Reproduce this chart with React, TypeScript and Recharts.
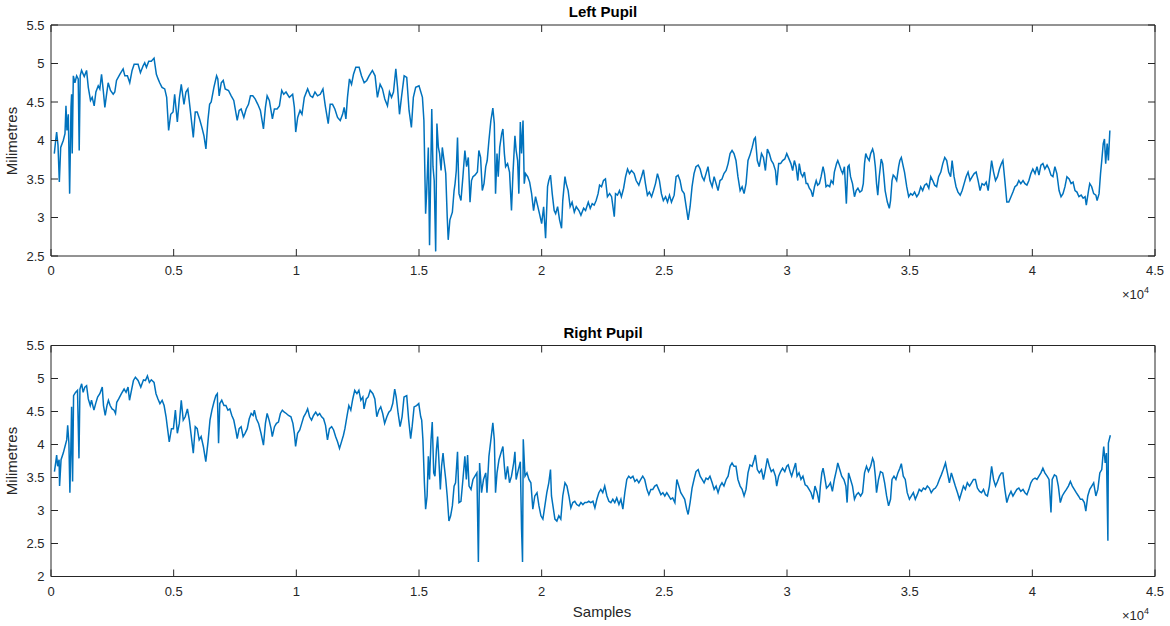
import { LineChart, Line, XAxis, YAxis } from "recharts"

const xTicks = [0, 5000, 10000, 15000, 20000, 25000, 30000, 35000, 40000, 45000]
const leftYTicks = [2.5, 3, 3.5, 4, 4.5, 5, 5.5]
const rightYTicks = [2, 2.5, 3, 3.5, 4, 4.5, 5, 5.5]

// [sample, pupil size in mm]
const leftPupil: [number, number][] = [
  [135, 3.83], [190, 4.0], [230, 4.11], [285, 3.94], [340, 3.46], [395, 3.91], [500, 4.0], [570, 4.09], [610, 4.45], [650, 4.13],
  [705, 4.34], [760, 3.31], [815, 4.43], [840, 4.6], [865, 3.83], [910, 4.84], [975, 4.75], [1045, 4.84], [1110, 4.8], [1150, 3.87],
  [1190, 4.84], [1245, 4.91], [1355, 4.83], [1450, 4.91], [1520, 4.69], [1610, 4.52], [1680, 4.56], [1760, 4.45], [1830, 4.63], [1925, 4.71],
  [1990, 4.67], [2060, 4.86], [2130, 4.65], [2195, 4.43], [2265, 4.6], [2330, 4.75], [2425, 4.65], [2535, 4.6], [2600, 4.63], [2670, 4.78],
  [2805, 4.86], [2940, 4.93], [3010, 4.84], [3115, 4.84], [3210, 4.75], [3305, 4.91], [3390, 4.99], [3550, 4.99], [3645, 4.88], [3755, 4.97],
  [3820, 5.01], [3890, 4.95], [3985, 5.03], [4090, 5.03], [4200, 5.07], [4295, 4.86], [4365, 4.8], [4430, 4.75], [4525, 4.69], [4635, 4.67],
  [4715, 4.56], [4795, 4.13], [4880, 4.34], [4975, 4.37], [5040, 4.6], [5150, 4.24], [5230, 4.54], [5310, 4.73], [5420, 4.47], [5500, 4.63],
  [5580, 4.67], [5665, 4.43], [5800, 4.04], [5880, 4.37], [5960, 4.37], [6055, 4.28], [6150, 4.17], [6235, 4.06], [6315, 3.89], [6395, 4.26],
  [6465, 4.47], [6530, 4.5], [6640, 4.69], [6750, 4.84], [6800, 4.8], [6855, 4.58], [6940, 4.75], [7020, 4.78], [7100, 4.67], [7235, 4.65],
  [7345, 4.58], [7450, 4.52], [7590, 4.26], [7670, 4.39], [7750, 4.41], [7860, 4.3], [7955, 4.41], [8050, 4.47], [8130, 4.58], [8225, 4.58],
  [8320, 4.54], [8430, 4.47], [8535, 4.39], [8660, 4.15], [8740, 4.43], [8810, 4.58], [8900, 4.52], [9025, 4.28], [9105, 4.41], [9215, 4.41],
  [9310, 4.45], [9405, 4.65], [9485, 4.6], [9580, 4.63], [9715, 4.56], [9850, 4.6], [9920, 4.43], [9975, 4.11], [10055, 4.3], [10150, 4.39],
  [10230, 4.34], [10325, 4.56], [10460, 4.67], [10570, 4.58], [10665, 4.56], [10760, 4.63], [10865, 4.58], [10975, 4.6], [11085, 4.67], [11180, 4.45],
  [11300, 4.22], [11380, 4.47], [11475, 4.47], [11570, 4.41], [11680, 4.3], [11790, 4.26], [11885, 4.34], [11950, 4.43], [12020, 4.28], [12085, 4.56],
  [12165, 4.8], [12250, 4.73], [12330, 4.86], [12425, 4.95], [12560, 4.95], [12655, 4.84], [12765, 4.75], [12870, 4.78], [12965, 4.84], [13100, 4.91],
  [13210, 4.84], [13305, 4.56], [13415, 4.73], [13510, 4.67], [13605, 4.54], [13715, 4.45], [13795, 4.63], [13880, 4.56], [13960, 4.63], [14055, 4.93],
  [14125, 4.69], [14205, 4.34], [14285, 4.56], [14395, 4.84], [14500, 4.82], [14595, 4.39], [14690, 4.17], [14770, 4.56], [14865, 4.69], [15000, 4.71],
  [15140, 4.56], [15200, 4.26], [15270, 3.05], [15310, 3.31], [15380, 3.91], [15430, 2.64], [15520, 4.41], [15570, 3.66], [15620, 3.48], [15680, 2.56],
  [15730, 4.22], [15790, 3.91], [15840, 3.83], [15900, 3.61], [15950, 3.91], [16020, 3.74], [16090, 3.57], [16150, 3.01], [16190, 2.71], [16260, 2.97],
  [16360, 3.07], [16430, 3.35], [16470, 3.44], [16520, 3.61], [16570, 4.04], [16630, 3.31], [16710, 3.22], [16790, 3.53], [16870, 3.87], [16940, 3.66],
  [17010, 3.78], [17080, 3.2], [17140, 3.48], [17200, 3.53], [17280, 3.55], [17380, 3.59], [17440, 3.87], [17510, 3.78], [17580, 3.35], [17650, 3.44],
  [17720, 3.66], [17780, 3.74], [17850, 4.0], [17930, 4.26], [18010, 4.42], [18070, 4.22], [18120, 3.31], [18180, 3.83], [18230, 3.53], [18290, 3.91],
  [18370, 4.09], [18420, 4.15], [18480, 3.83], [18530, 3.66], [18610, 3.7], [18690, 3.59], [18770, 3.09], [18830, 3.57], [18910, 4.06], [18960, 3.87],
  [19020, 3.74], [19070, 3.31], [19130, 4.24], [19180, 3.83], [19240, 4.26], [19290, 3.44], [19340, 3.57], [19430, 3.53], [19510, 3.46], [19590, 3.31],
  [19670, 3.09], [19750, 3.27], [19830, 3.16], [19910, 3.05], [20000, 2.92], [20080, 3.14], [20160, 2.73], [20240, 3.4], [20290, 3.48], [20360, 3.55],
  [20430, 3.31], [20510, 3.09], [20570, 3.05], [20650, 3.14], [20730, 2.97], [20810, 2.86], [20860, 3.22], [20950, 3.53], [21000, 3.44], [21080, 3.35],
  [21160, 3.14], [21240, 3.2], [21330, 3.07], [21410, 3.14], [21520, 3.09], [21600, 3.03], [21710, 3.12], [21790, 3.09], [21900, 3.2], [21980, 3.12],
  [22060, 3.18], [22140, 3.16], [22220, 3.22], [22300, 3.31], [22360, 3.42], [22440, 3.4], [22520, 3.48], [22600, 3.5], [22680, 3.27], [22770, 3.31],
  [22850, 3.27], [22960, 3.01], [23010, 3.31], [23090, 3.29], [23170, 3.35], [23250, 3.27], [23340, 3.38], [23420, 3.53], [23500, 3.63], [23580, 3.57],
  [23660, 3.61], [23770, 3.57], [23850, 3.48], [23960, 3.42], [24070, 3.53], [24150, 3.62], [24230, 3.44], [24310, 3.29], [24390, 3.33], [24480, 3.27],
  [24560, 3.35], [24640, 3.44], [24720, 3.57], [24800, 3.48], [24880, 3.31], [24960, 3.22], [25050, 3.27], [25130, 3.2], [25210, 3.29], [25290, 3.2],
  [25400, 3.29], [25480, 3.53], [25560, 3.55], [25640, 3.48], [25720, 3.35], [25810, 3.31], [25890, 3.14], [25970, 2.97], [26050, 3.14], [26130, 3.4],
  [26210, 3.57], [26290, 3.66], [26380, 3.68], [26460, 3.63], [26540, 3.53], [26620, 3.48], [26700, 3.57], [26780, 3.66], [26860, 3.48], [26950, 3.4],
  [27030, 3.53], [27110, 3.44], [27190, 3.35], [27270, 3.48], [27350, 3.5], [27430, 3.57], [27520, 3.61], [27600, 3.7], [27680, 3.83], [27760, 3.87],
  [27840, 3.83], [27920, 3.74], [28000, 3.53], [28090, 3.35], [28170, 3.4], [28250, 3.31], [28330, 3.44], [28410, 3.74], [28490, 3.81], [28580, 3.91],
  [28660, 4.02], [28710, 4.04], [28790, 3.74], [28870, 3.66], [28960, 3.83], [29040, 3.78], [29120, 3.61], [29200, 3.89], [29280, 3.83], [29360, 3.74],
  [29440, 3.7], [29530, 3.61], [29580, 3.42], [29660, 3.7], [29740, 3.7], [29820, 3.74], [29910, 3.76], [29990, 3.83], [30160, 3.7], [30230, 3.61],
  [30300, 3.74], [30370, 3.66], [30440, 3.48], [30500, 3.7], [30570, 3.57], [30640, 3.53], [30710, 3.59], [30780, 3.44], [30840, 3.44], [30910, 3.38],
  [30980, 3.35], [31050, 3.27], [31120, 3.4], [31190, 3.48], [31250, 3.42], [31320, 3.44], [31390, 3.53], [31470, 3.66], [31530, 3.57], [31590, 3.4],
  [31660, 3.42], [31740, 3.4], [31800, 3.48], [31880, 3.44], [31930, 3.59], [32020, 3.7], [32070, 3.74], [32140, 3.68], [32210, 3.61], [32270, 3.57],
  [32340, 3.66], [32420, 3.18], [32480, 3.66], [32530, 3.68], [32590, 3.53], [32670, 3.44], [32750, 3.27], [32820, 3.35], [32890, 3.38], [32970, 3.33],
  [33050, 3.35], [33110, 3.44], [33160, 3.7], [33210, 3.83], [33270, 3.78], [33350, 3.74], [33410, 3.83], [33490, 3.89], [33540, 3.83], [33600, 3.66],
  [33650, 3.44], [33700, 3.29], [33760, 3.53], [33840, 3.76], [33900, 3.7], [33950, 3.53], [34000, 3.35], [34090, 3.2], [34170, 3.12], [34220, 3.22],
  [34280, 3.48], [34330, 3.55], [34390, 3.53], [34470, 3.48], [34550, 3.66], [34600, 3.74], [34660, 3.78], [34740, 3.66], [34790, 3.59], [34880, 3.4],
  [34960, 3.27], [35040, 3.31], [35120, 3.29], [35200, 3.33], [35290, 3.27], [35370, 3.31], [35450, 3.4], [35530, 3.35], [35610, 3.42], [35690, 3.44],
  [35780, 3.38], [35860, 3.53], [35940, 3.48], [36020, 3.42], [36100, 3.4], [36180, 3.53], [36270, 3.59], [36350, 3.7], [36430, 3.78], [36510, 3.74],
  [36590, 3.59], [36670, 3.53], [36730, 3.74], [36810, 3.53], [36890, 3.4], [36970, 3.33], [37060, 3.29], [37140, 3.35], [37220, 3.44], [37300, 3.53],
  [37380, 3.59], [37460, 3.48], [37550, 3.53], [37630, 3.57], [37710, 3.59], [37790, 3.48], [37870, 3.35], [37950, 3.44], [38040, 3.42], [38120, 3.46],
  [38200, 3.35], [38280, 3.57], [38340, 3.74], [38420, 3.59], [38500, 3.48], [38580, 3.53], [38660, 3.63], [38740, 3.7], [38800, 3.74], [38880, 3.48],
  [38960, 3.2], [39040, 3.2], [39130, 3.27], [39210, 3.33], [39290, 3.4], [39370, 3.42], [39450, 3.48], [39530, 3.44], [39620, 3.48], [39700, 3.44],
  [39780, 3.42], [39860, 3.48], [39940, 3.57], [40020, 3.63], [40110, 3.57], [40190, 3.66], [40270, 3.55], [40350, 3.68], [40430, 3.7], [40510, 3.63],
  [40600, 3.68], [40680, 3.63], [40760, 3.55], [40840, 3.53], [40920, 3.66], [41000, 3.57], [41090, 3.35], [41170, 3.27], [41250, 3.31], [41330, 3.4],
  [41410, 3.53], [41500, 3.5], [41580, 3.44], [41660, 3.46], [41740, 3.35], [41820, 3.33], [41900, 3.27], [41990, 3.29], [42070, 3.25], [42150, 3.27],
  [42200, 3.16], [42290, 3.35], [42340, 3.44], [42420, 3.4], [42500, 3.31], [42590, 3.29], [42640, 3.22], [42720, 3.31], [42780, 3.57], [42830, 3.74],
  [42890, 3.96], [42940, 4.02], [42990, 3.7], [43050, 3.96], [43100, 3.74], [43160, 4.13],
]

const rightPupil: [number, number][] = [
  [140, 3.59], [190, 3.72], [230, 3.84], [270, 3.67], [330, 3.77], [350, 3.37], [410, 3.77], [500, 3.87], [570, 3.97], [640, 4.07],
  [680, 4.29], [730, 4.02], [770, 3.27], [810, 3.97], [840, 4.57], [880, 3.44], [920, 4.74], [1000, 4.79], [1080, 4.82], [1140, 3.79],
  [1180, 4.84], [1250, 4.92], [1310, 4.79], [1380, 4.87], [1450, 4.89], [1520, 4.69], [1600, 4.59], [1650, 4.67], [1750, 4.52], [1820, 4.62],
  [1900, 4.72], [1990, 4.77], [2090, 4.87], [2140, 4.59], [2210, 4.44], [2280, 4.59], [2340, 4.67], [2410, 4.59], [2490, 4.54], [2570, 4.52],
  [2630, 4.47], [2680, 4.64], [2760, 4.69], [2870, 4.77], [2980, 4.84], [3060, 4.79], [3140, 4.87], [3200, 4.67], [3280, 4.82], [3360, 4.97],
  [3440, 5.02], [3550, 4.97], [3660, 4.87], [3770, 4.98], [3850, 4.97], [3930, 5.04], [4010, 4.94], [4090, 4.98], [4200, 4.94], [4280, 4.77],
  [4360, 4.69], [4440, 4.62], [4530, 4.67], [4610, 4.59], [4690, 4.42], [4740, 4.27], [4820, 4.04], [4910, 4.24], [4990, 4.24], [5070, 4.52],
  [5150, 4.17], [5230, 4.32], [5310, 4.67], [5390, 4.37], [5470, 4.42], [5560, 4.54], [5640, 4.37], [5720, 4.12], [5800, 3.87], [5880, 4.27],
  [5960, 4.24], [6040, 4.07], [6120, 4.12], [6210, 3.97], [6310, 3.74], [6400, 4.04], [6480, 4.37], [6560, 4.52], [6640, 4.64], [6720, 4.74],
  [6780, 4.77], [6830, 4.02], [6880, 4.62], [6960, 4.67], [7050, 4.59], [7130, 4.59], [7210, 4.52], [7290, 4.54], [7370, 4.44], [7450, 4.37],
  [7530, 4.22], [7590, 4.09], [7670, 4.24], [7750, 4.27], [7830, 4.12], [7910, 4.17], [8000, 4.24], [8080, 4.39], [8160, 4.47], [8240, 4.44],
  [8290, 4.52], [8370, 4.39], [8460, 4.32], [8560, 4.17], [8660, 3.99], [8740, 4.32], [8810, 4.47], [8890, 4.37], [8970, 4.24], [9020, 4.12],
  [9110, 4.27], [9190, 4.32], [9270, 4.34], [9350, 4.47], [9430, 4.52], [9510, 4.49], [9590, 4.47], [9680, 4.44], [9780, 4.42], [9860, 4.32],
  [9920, 4.17], [9970, 3.97], [10050, 4.17], [10140, 4.22], [10220, 4.32], [10300, 4.42], [10380, 4.47], [10460, 4.54], [10540, 4.42], [10620, 4.37],
  [10700, 4.44], [10790, 4.49], [10870, 4.44], [10950, 4.47], [11030, 4.42], [11110, 4.39], [11190, 4.29], [11270, 4.07], [11350, 4.24], [11440, 4.27],
  [11520, 4.22], [11600, 4.12], [11680, 4.04], [11760, 3.94], [11840, 4.04], [11920, 4.14], [11980, 4.24], [12060, 4.42], [12140, 4.59], [12220, 4.52],
  [12300, 4.69], [12380, 4.82], [12470, 4.77], [12550, 4.82], [12630, 4.67], [12710, 4.72], [12760, 4.54], [12850, 4.69], [12930, 4.72], [13010, 4.82],
  [13120, 4.77], [13200, 4.69], [13280, 4.42], [13360, 4.52], [13440, 4.57], [13520, 4.47], [13600, 4.32], [13690, 4.42], [13770, 4.49], [13850, 4.52],
  [13930, 4.62], [14010, 4.84], [14070, 4.72], [14150, 4.47], [14230, 4.27], [14310, 4.42], [14390, 4.72], [14500, 4.74], [14580, 4.37], [14660, 4.09],
  [14720, 4.27], [14800, 4.57], [14900, 4.59], [14990, 4.62], [15070, 4.42], [15110, 4.37], [15160, 4.07], [15220, 3.42], [15270, 3.02], [15330, 3.22],
  [15380, 3.82], [15430, 3.47], [15490, 4.07], [15540, 4.34], [15600, 3.57], [15650, 3.52], [15710, 3.92], [15760, 4.12], [15810, 3.77], [15870, 3.32],
  [15920, 3.67], [15980, 3.87], [16030, 3.67], [16090, 3.47], [16150, 3.22], [16220, 2.84], [16290, 2.92], [16360, 3.07], [16430, 3.37], [16490, 3.42],
  [16570, 3.89], [16630, 3.12], [16710, 3.14], [16790, 3.47], [16870, 3.82], [16930, 3.47], [16980, 3.84], [17040, 3.37], [17120, 3.32], [17200, 3.47],
  [17280, 3.52], [17360, 3.57], [17420, 2.22], [17470, 3.72], [17550, 3.27], [17630, 3.47], [17720, 3.57], [17770, 3.27], [17850, 3.82], [17930, 4.07],
  [18010, 4.33], [18070, 4.07], [18120, 3.27], [18180, 3.57], [18260, 3.77], [18340, 3.87], [18420, 3.97], [18480, 3.67], [18530, 3.47], [18610, 3.67],
  [18690, 3.42], [18770, 3.52], [18860, 3.72], [18910, 3.89], [18960, 3.47], [19050, 3.62], [19130, 3.74], [19180, 2.72], [19220, 2.22], [19250, 4.08],
  [19320, 3.52], [19400, 3.57], [19480, 3.47], [19560, 3.42], [19640, 3.02], [19720, 3.22], [19810, 3.27], [19890, 3.07], [19970, 2.92], [20050, 2.87],
  [20130, 3.07], [20210, 3.27], [20290, 3.42], [20360, 3.62], [20400, 3.22], [20460, 3.07], [20540, 2.87], [20620, 2.84], [20700, 2.92], [20780, 2.87],
  [20860, 3.22], [20950, 3.42], [21030, 3.37], [21110, 3.22], [21190, 3.04], [21270, 3.12], [21350, 3.14], [21430, 3.09], [21520, 3.07], [21600, 3.12],
  [21680, 3.09], [21760, 3.12], [21840, 3.12], [21920, 3.14], [22000, 3.12], [22090, 3.14], [22170, 3.04], [22250, 3.17], [22330, 3.27], [22410, 3.32],
  [22490, 3.27], [22570, 3.37], [22660, 3.22], [22740, 3.14], [22820, 3.12], [22900, 3.17], [22980, 3.12], [23060, 3.19], [23150, 3.09], [23230, 3.17],
  [23310, 3.02], [23390, 3.27], [23470, 3.47], [23550, 3.52], [23630, 3.49], [23720, 3.52], [23800, 3.44], [23880, 3.47], [23960, 3.42], [24040, 3.47],
  [24120, 3.52], [24200, 3.47], [24290, 3.32], [24370, 3.24], [24450, 3.32], [24530, 3.32], [24610, 3.37], [24690, 3.39], [24770, 3.32], [24860, 3.24],
  [24940, 3.27], [25020, 3.22], [25100, 3.27], [25180, 3.22], [25260, 3.17], [25340, 3.19], [25430, 3.12], [25510, 3.47], [25590, 3.37], [25670, 3.27],
  [25750, 3.22], [25830, 3.17], [25910, 3.02], [25970, 2.94], [26050, 3.12], [26130, 3.34], [26210, 3.47], [26290, 3.59], [26380, 3.62], [26460, 3.52],
  [26540, 3.47], [26620, 3.42], [26700, 3.49], [26780, 3.47], [26860, 3.52], [26950, 3.42], [27030, 3.32], [27110, 3.37], [27190, 3.27], [27270, 3.37],
  [27350, 3.42], [27430, 3.37], [27520, 3.47], [27600, 3.52], [27680, 3.67], [27760, 3.72], [27840, 3.67], [27920, 3.67], [28000, 3.47], [28090, 3.37],
  [28170, 3.32], [28250, 3.22], [28330, 3.32], [28410, 3.57], [28490, 3.69], [28580, 3.67], [28660, 3.77], [28710, 3.84], [28790, 3.62], [28870, 3.57],
  [28960, 3.62], [29040, 3.47], [29120, 3.62], [29200, 3.79], [29280, 3.67], [29360, 3.59], [29440, 3.62], [29530, 3.52], [29580, 3.37], [29660, 3.52],
  [29740, 3.59], [29820, 3.64], [29910, 3.59], [29990, 3.67], [30050, 3.69], [30140, 3.57], [30190, 3.52], [30270, 3.62], [30350, 3.72], [30410, 3.52],
  [30490, 3.57], [30570, 3.47], [30650, 3.52], [30740, 3.39], [30820, 3.37], [30900, 3.32], [30980, 3.27], [31060, 3.17], [31140, 3.37], [31230, 3.27],
  [31310, 3.12], [31360, 3.37], [31420, 3.57], [31470, 3.64], [31530, 3.52], [31610, 3.34], [31690, 3.37], [31770, 3.42], [31850, 3.29], [31930, 3.47],
  [32020, 3.62], [32070, 3.72], [32150, 3.62], [32230, 3.52], [32320, 3.47], [32400, 3.37], [32450, 3.12], [32510, 3.57], [32590, 3.47], [32670, 3.37],
  [32750, 3.17], [32830, 3.24], [32910, 3.27], [33000, 3.22], [33080, 3.27], [33160, 3.57], [33240, 3.67], [33320, 3.59], [33410, 3.67], [33490, 3.79],
  [33540, 3.74], [33600, 3.52], [33650, 3.27], [33730, 3.47], [33810, 3.59], [33900, 3.57], [33980, 3.42], [34060, 3.22], [34140, 3.07], [34220, 3.17],
  [34280, 3.47], [34360, 3.52], [34440, 3.47], [34520, 3.57], [34600, 3.64], [34660, 3.71], [34740, 3.52], [34820, 3.47], [34900, 3.27], [34990, 3.17],
  [35070, 3.22], [35150, 3.27], [35230, 3.17], [35310, 3.24], [35390, 3.32], [35480, 3.29], [35560, 3.34], [35640, 3.32], [35720, 3.37], [35800, 3.34],
  [35880, 3.27], [35970, 3.32], [36050, 3.34], [36130, 3.39], [36210, 3.47], [36290, 3.54], [36370, 3.62], [36460, 3.72], [36540, 3.57], [36620, 3.42],
  [36700, 3.57], [36780, 3.47], [36860, 3.37], [36950, 3.27], [37030, 3.17], [37110, 3.27], [37190, 3.37], [37270, 3.32], [37350, 3.42], [37440, 3.37],
  [37520, 3.42], [37600, 3.47], [37680, 3.47], [37760, 3.34], [37850, 3.29], [37930, 3.27], [38010, 3.32], [38090, 3.24], [38170, 3.22], [38250, 3.37],
  [38340, 3.67], [38420, 3.47], [38500, 3.37], [38580, 3.44], [38660, 3.52], [38740, 3.57], [38800, 3.57], [38880, 3.32], [38960, 3.12], [39040, 3.22],
  [39130, 3.29], [39210, 3.22], [39290, 3.27], [39370, 3.32], [39450, 3.34], [39530, 3.29], [39620, 3.32], [39700, 3.27], [39780, 3.24], [39860, 3.32],
  [39940, 3.42], [40020, 3.47], [40110, 3.49], [40190, 3.47], [40270, 3.52], [40350, 3.57], [40430, 3.64], [40510, 3.57], [40600, 3.52], [40680, 3.47],
  [40760, 2.97], [40810, 3.47], [40900, 3.54], [40980, 3.52], [41060, 3.37], [41140, 3.12], [41220, 3.22], [41300, 3.27], [41390, 3.32], [41470, 3.37],
  [41550, 3.44], [41630, 3.37], [41710, 3.32], [41790, 3.27], [41880, 3.22], [41960, 3.17], [42040, 3.17], [42120, 3.12], [42180, 2.99], [42260, 3.22],
  [42340, 3.32], [42420, 3.37], [42500, 3.42], [42590, 3.22], [42670, 3.32], [42750, 3.57], [42830, 3.62], [42910, 3.97], [42970, 3.72], [43020, 3.87],
  [43080, 2.54], [43100, 4.02], [43180, 4.14],
]

const axisColor = "#262626"
const lineColor = "#0072BD"
const fontFamily = '"Liberation Sans", Arial, Helvetica, sans-serif'

const toRows = (pts: [number, number][]) => pts.map(([x, y]) => ({ x, y }))
const fmtX = (v: number) => String(v / 10000)
const blank = () => ""

type PanelProps = {
  top: number
  height: number
  marginTop: number
  marginBottom: number
  title: string
  points: [number, number][]
  yTicks: number[]
}

const Panel = ({ top, height, marginTop, marginBottom, title, points, yTicks }: PanelProps) => {
  const plotMid = marginTop + (height - marginTop - marginBottom - 30) / 2
  const yDomain = [yTicks[0], yTicks[yTicks.length - 1]]
  return (
    <div style={{ position: "absolute", left: 0, top, width: 1170, height }}>
      <LineChart
        width={1170}
        height={height}
        data={toRows(points)}
        margin={{ top: marginTop - 1, right: 14, bottom: marginBottom, left: 0 }}
      >
        <XAxis
          dataKey="x"
          type="number"
          domain={[0, 45000]}
          ticks={xTicks}
          interval={0}
          tickFormatter={fmtX}
          height={30}
          tickSize={-7}
          tickMargin={17}
          stroke={axisColor}
          tick={{ fill: axisColor, fontSize: 13, fontFamily }}
        />
        <XAxis
          xAxisId="top"
          dataKey="x"
          orientation="top"
          type="number"
          domain={[0, 45000]}
          ticks={xTicks}
          interval={0}
          tickFormatter={blank}
          height={1}
          tickSize={-7}
          stroke={axisColor}
        />
        <YAxis
          dataKey="y"
          type="number"
          domain={yDomain}
          ticks={yTicks}
          interval={0}
          width={51}
          tickSize={-7}
          tickMargin={13.5}
          stroke={axisColor}
          allowDataOverflow
          tick={{ fill: axisColor, fontSize: 13, fontFamily }}
        />
        <YAxis
          yAxisId="right"
          dataKey="y"
          orientation="right"
          type="number"
          domain={yDomain}
          ticks={yTicks}
          interval={0}
          tickFormatter={blank}
          width={1}
          tickSize={-7}
          stroke={axisColor}
          allowDataOverflow
        />
        <Line
          dataKey="y"
          stroke={lineColor}
          strokeWidth={1.5}
          dot={false}
          isAnimationActive={false}
        />
        <Line
          xAxisId="top"
          yAxisId="right"
          dataKey="y"
          stroke="none"
          strokeWidth={0}
          dot={false}
          activeDot={false}
          legendType="none"
          isAnimationActive={false}
        />
      </LineChart>
      <div
        style={{
          position: "absolute", left: 51, width: 1104, top: marginTop - 21, textAlign: "center",
          fontFamily, fontSize: 15, fontWeight: "bold", lineHeight: "15px", color: "#000",
        }}
      >
        {title}
      </div>
      <div
        style={{
          position: "absolute", left: 12 - 60, width: 120, top: plotMid - 9, height: 18, textAlign: "center",
          fontFamily, fontSize: 15, lineHeight: "18px", color: axisColor, transform: "rotate(-90deg)",
        }}
      >
        Milimetres
      </div>
      <div
        style={{
          position: "absolute", left: 1122, top: height - marginBottom - 30 + 31, fontFamily,
          fontSize: 13, lineHeight: "16px", color: axisColor, whiteSpace: "nowrap",
        }}
      >
        ×10<span style={{ fontSize: 9, position: "relative", top: -6 }}>4</span>
      </div>
    </div>
  )
}

const App = () => {
  return (
    <div style={{ position: "absolute", left: 0, top: 0, width: 1170, height: 626, background: "#fff" }}>
      <Panel top={0} height={310} marginTop={25} marginBottom={24} title="Left Pupil" points={leftPupil} yTicks={leftYTicks} />
      <Panel top={310} height={316} marginTop={35.5} marginBottom={19.5} title="Right Pupil" points={rightPupil} yTicks={rightYTicks} />
      <div
        style={{
          position: "absolute", left: 502, width: 200, top: 603, textAlign: "center",
          fontFamily, fontSize: 15, lineHeight: "18px", color: axisColor,
        }}
      >
        Samples
      </div>
    </div>
  )
}

export default App
